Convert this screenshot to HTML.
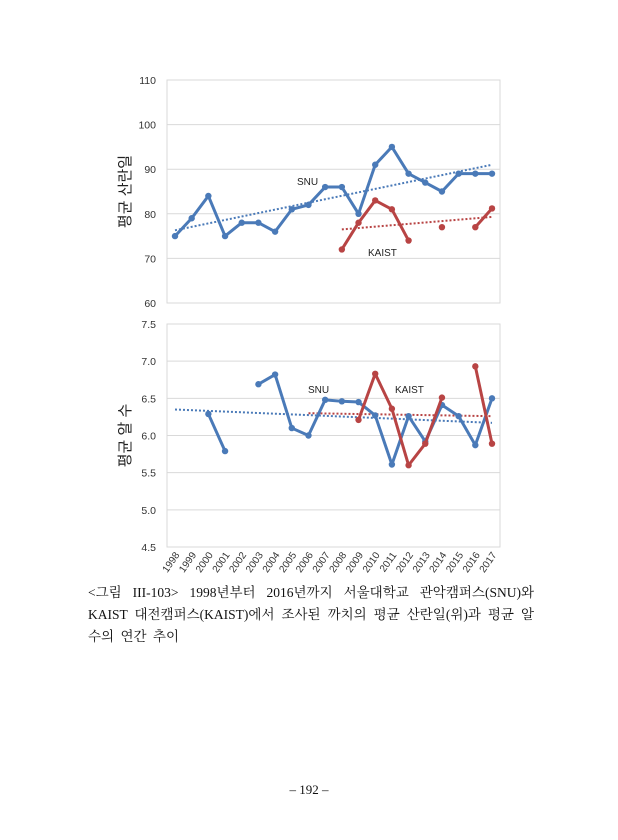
<!DOCTYPE html>
<html><head><meta charset="utf-8"><style>
body{margin:0;background:#fff;width:618px;height:840px;overflow:hidden;position:relative;font-family:"Liberation Serif","Noto Serif CJK SC","Noto Sans CJK KR",serif}
svg{position:absolute;left:0;top:0}
.cap{position:absolute;left:88px;top:582px;width:446px;font-size:13.5px;line-height:22px;color:#111;text-align:justify;text-align-last:left;word-spacing:3px}
.pg{position:absolute;left:0;width:618px;top:782px;text-align:center;font-size:13px;color:#111}
</style></head><body>
<svg id="chart" width="618" height="840" font-family="Liberation Sans, Noto Sans CJK KR, sans-serif"></svg>
<div class="cap">&lt;그림 III-103&gt; 1998년부터 2016년까지 서울대학교 관악캠퍼스(SNU)와 KAIST 대전캠퍼스(KAIST)에서 조사된 까치의 평균 산란일(위)과 평균 알 수의 연간 추이</div>
<div class="pg">– 192 –</div>
<script>
const years=[1998,1999,2000,2001,2002,2003,2004,2005,2006,2007,2008,2009,2010,2011,2012,2013,2014,2015,2016,2017];
const snuLay=[75,79,84,75,78,78,76,81,82,86,86,80,91,95,89,87,85,89,89,89];
const kaistLay=[null,null,null,null,null,null,null,null,null,null,72,78,83,81,74,null,77,null,77,81.2];
const snuLayTrend=[76.3,91];
const kaistLayTrend=[76.5,79.3];
const snuEgg=[null,null,6.29,5.79,null,6.69,6.82,6.1,6.0,6.48,6.46,6.45,6.27,5.61,6.26,5.92,6.41,6.26,5.87,6.5];
const kaistEgg=[null,null,null,null,null,null,null,null,null,null,null,6.21,6.83,6.36,5.6,5.89,6.51,null,6.93,5.89];
const snuEggTrend=[6.35,6.17];
const kaistEggTrend=[6.3,6.26];
const topTicks=[60,70,80,90,100,110];
const botTicks=["4.5","5.0","5.5","6.0","6.5","7.0","7.5"];
const svg=document.getElementById('chart');
const NS='http://www.w3.org/2000/svg';
const BLUE='#4a7ab8',RED='#b84444';
function mk(t,a,p){const e=document.createElementNS(NS,t);for(const k in a)e.setAttribute(k,a[k]);(p||svg).appendChild(e);return e;}
const X=i=>175+i*(492-175)/(years.length-1);
function panel(name,top,bot,min,max,ticks,ylabel,series,trends,labels){
  const g=mk('g',{});
  
  
  const Y=v=>bot-(v-min)/(max-min)*(bot-top);
  ticks.forEach(t=>{const v=+t;
    const l=mk('line',{x1:167,x2:500,y1:Y(v),y2:Y(v),stroke:'#d9d9d9','stroke-width':1},g);
    
    
    const tx=mk('text',{x:156,y:Y(v)+4,'text-anchor':'end','font-size':10.5,fill:'#333'},g);
    tx.textContent=t;
    
    
  });
  const fr=mk('rect',{x:167,y:top,width:333,height:bot-top,fill:'none',stroke:'#d9d9d9'},g);
  
  
  const yl=mk('text',{transform:`translate(130,${(top+bot)/2}) rotate(-90)`,'text-anchor':'middle','font-size':15,fill:'#222'},g);
  yl.textContent=ylabel;
  
  
  trends.forEach(tr=>{
    const i0=tr.start,i1=years.length-1;
    const l=mk('line',{x1:X(i0),x2:X(i1),y1:Y(tr.v[0]),y2:Y(tr.v[1]),stroke:tr.c,'stroke-width':2,'stroke-dasharray':'2 2'},g);
    
    
  });
  series.forEach(s=>{
    let d='',pen=false;
    s.v.forEach((v,i)=>{if(v==null){pen=false;return;}d+=(pen?'L':'M')+X(i)+' '+Y(v)+' ';pen=true;});
    const p=mk('path',{d:d,fill:'none',stroke:s.c,'stroke-width':3,'stroke-linejoin':'round'},g);
    
    
    s.v.forEach((v,i)=>{if(v==null)return;
      const c=mk('circle',{cx:X(i),cy:Y(v),r:3.2,fill:s.c},g);
      
      
    });
  });
  labels.forEach(lb=>{
    const t=mk('text',{x:lb.x,y:lb.y,'font-size':10,fill:'#222'},g);
    t.textContent=lb.t;
    
    
  });
  return Y;
}
panel('laying-date-chart',80,303,60,110,topTicks.map(String),'평균 산란일',
  [{v:snuLay,c:BLUE,n:'snu-laying'},{v:kaistLay,c:RED,n:'kaist-laying'}],
  [{v:snuLayTrend,c:BLUE,start:0,n:'snu-laying-trend'},{v:kaistLayTrend,c:RED,start:10,n:'kaist-laying-trend'}],
  [{x:297,y:185,t:'SNU',n:'snu-label'},{x:368,y:256,t:'KAIST',n:'kaist-label'}]);
panel('clutch-size-chart',324,547,4.5,7.5,botTicks,'평균 알 수',
  [{v:snuEgg,c:BLUE,n:'snu-clutch'},{v:kaistEgg,c:RED,n:'kaist-clutch'}],
  [{v:snuEggTrend,c:BLUE,start:0,n:'snu-clutch-trend'},{v:kaistEggTrend,c:RED,start:8,n:'kaist-clutch-trend'}],
  [{x:308,y:393,t:'SNU',n:'snu-label'},{x:395,y:393,t:'KAIST',n:'kaist-label'}]);
years.forEach((yr,i)=>{
  const t=mk('text',{transform:`translate(${X(i)+5},555) rotate(-55)`,'text-anchor':'end','font-size':10,fill:'#333'});
  t.textContent=yr;
  
  
});
</script>
</body></html>
